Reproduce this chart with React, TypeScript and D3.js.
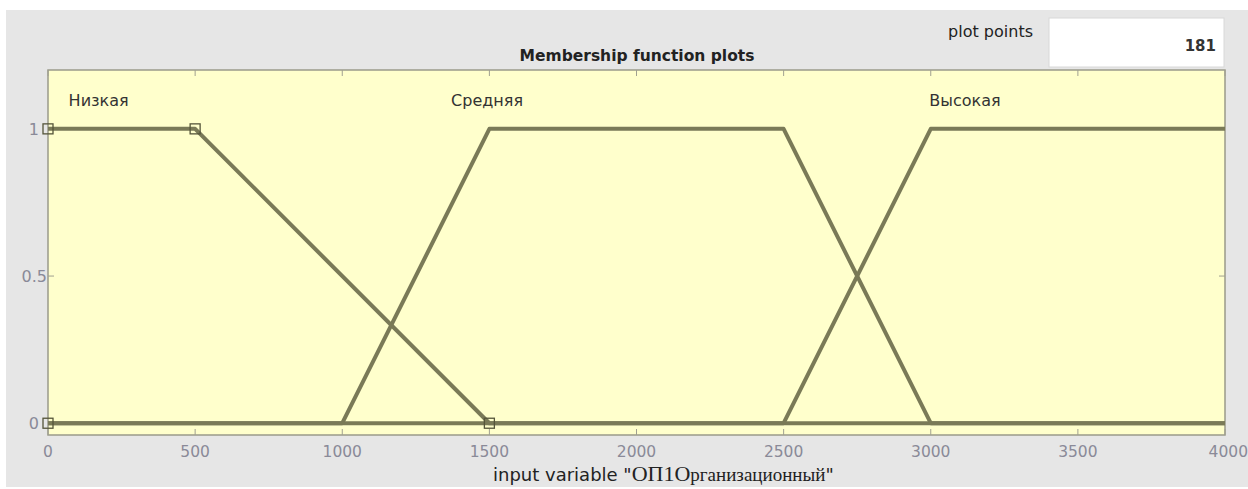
import React from "react";
import * as d3 from "d3";

const xTicks = [0, 500, 1000, 1500, 2000, 2500, 3000, 3500, 4000];
const yTicks = [0, 0.5, 1];
const yTickLabels = ["0", "0.5", "1"];
const mfNames = ["Низкая", "Средняя", "Высокая"];
const mfLabelX = [70, 1370, 2995];
const mfLabelY = 1.1;
const lowX = [0, 500, 1500, 4000];
const lowY = [1, 1, 0, 0];
const midX = [0, 1000, 1500, 2500, 3000, 4000];
const midY = [0, 0, 1, 1, 0, 0];
const highX = [0, 2500, 3000, 4000];
const highY = [0, 0, 1, 1];
const markerX = [0, 500, 1500, 0];
const markerY = [1, 1, 0, 0];
const plotPoints = "181";
const title = "Membership function plots";

const W = 1248;
const H = 489;
const P = { left: 48, right: 1225, top: 70, bottom: 435 };

export default function App() {
  const x = d3.scaleLinear().domain([0, 4000]).range([P.left, P.right]);
  const y = d3.scaleLinear().domain([-0.04, 1.2]).range([P.bottom, P.top]);
  const line = d3
    .line<[number, number]>()
    .x((d) => x(d[0]))
    .y((d) => y(d[1]));
  const series = [
    [lowX, lowY],
    [midX, midY],
    [highX, highY],
  ].map(([xs, ys]) => xs.map((v, i) => [v, ys[i]] as [number, number]));
  const sans = "'DejaVu Sans', sans-serif";
  const serif = "'Liberation Serif', serif";
  const lineColor = "#7a7a57";
  const tickColor = "#8a8a98";
  return (
    <svg
      width={W}
      height={H}
      style={{ position: "absolute", left: 0, top: 0, display: "block" }}
      fontFamily={sans}
    >
      <rect x={0} y={0} width={W} height={H} fill="#ffffff" />
      <rect x={6} y={10} width={W - 6} height={H - 12} fill="#e6e6e6" />
      {/* plot points box */}
      <text x={1033} y={37} fontSize={16} textAnchor="end" fill="#222">
        plot points
      </text>
      <rect x={1049} y={18} width={175} height={49} fill="#ffffff" stroke="#d8d8d8" />
      <text x={1216} y={51} fontSize={15} fontWeight="bold" textAnchor="end" fill="#333">
        {plotPoints}
      </text>
      <text x={637} y={61} fontSize={15.5} fontWeight="bold" textAnchor="middle" fill="#222">
        {title}
      </text>
      {/* plot area */}
      <rect
        x={P.left}
        y={P.top}
        width={P.right - P.left}
        height={P.bottom - P.top}
        fill="#ffffcc"
        stroke="#9a9a8a"
        strokeWidth={1.5}
      />
      {xTicks.map((t) => (
        <g key={t}>
          <line x1={x(t)} x2={x(t)} y1={P.top} y2={P.top + 6} stroke="#a0a090" />
          <line x1={x(t)} x2={x(t)} y1={P.bottom} y2={P.bottom - 6} stroke="#a0a090" />
          <text
            x={t === 4000 ? W : x(t)}
            y={457}
            fontSize={15.5}
            textAnchor={t === 4000 ? "end" : "middle"}
            fill={tickColor}
          >
            {t}
          </text>
        </g>
      ))}
      {yTicks.map((t, i) => (
        <g key={t}>
          <line x1={P.left} x2={P.left + 6} y1={y(t)} y2={y(t)} stroke="#a0a090" />
          <line x1={P.right} x2={P.right - 6} y1={y(t)} y2={y(t)} stroke="#a0a090" />
          <text
            x={t === 0.5 ? P.left - 1 : P.left - 9}
            y={y(t) + 6}
            fontSize={16}
            textAnchor="end"
            fill={tickColor}
          >
            {yTickLabels[i]}
          </text>
        </g>
      ))}
      {series.map((pts, i) => (
        <path
          key={i}
          d={line(pts) || ""}
          fill="none"
          stroke={lineColor}
          strokeWidth={4}
          strokeLinejoin="round"
        />
      ))}
      {markerX.map((mx, i) => (
        <rect
          key={i}
          x={x(mx) - 5}
          y={y(markerY[i]) - 5}
          width={10}
          height={10}
          fill="none"
          stroke="#55553a"
          strokeWidth={1.3}
        />
      ))}
      {mfNames.map((n, i) => (
        <text key={n} x={x(mfLabelX[i])} y={y(mfLabelY) + 7} fontSize={16} fill="#333">
          {n}
        </text>
      ))}
      <text x={493} y={481} fontSize={18} fill="#222">
        <tspan>input variable "</tspan>
        <tspan fontFamily={serif} fontSize={22}>ОП1О</tspan>
        <tspan fontFamily={serif} fontSize={19}>рганизационный</tspan>
        <tspan>"</tspan>
      </text>
    </svg>
  );
}
